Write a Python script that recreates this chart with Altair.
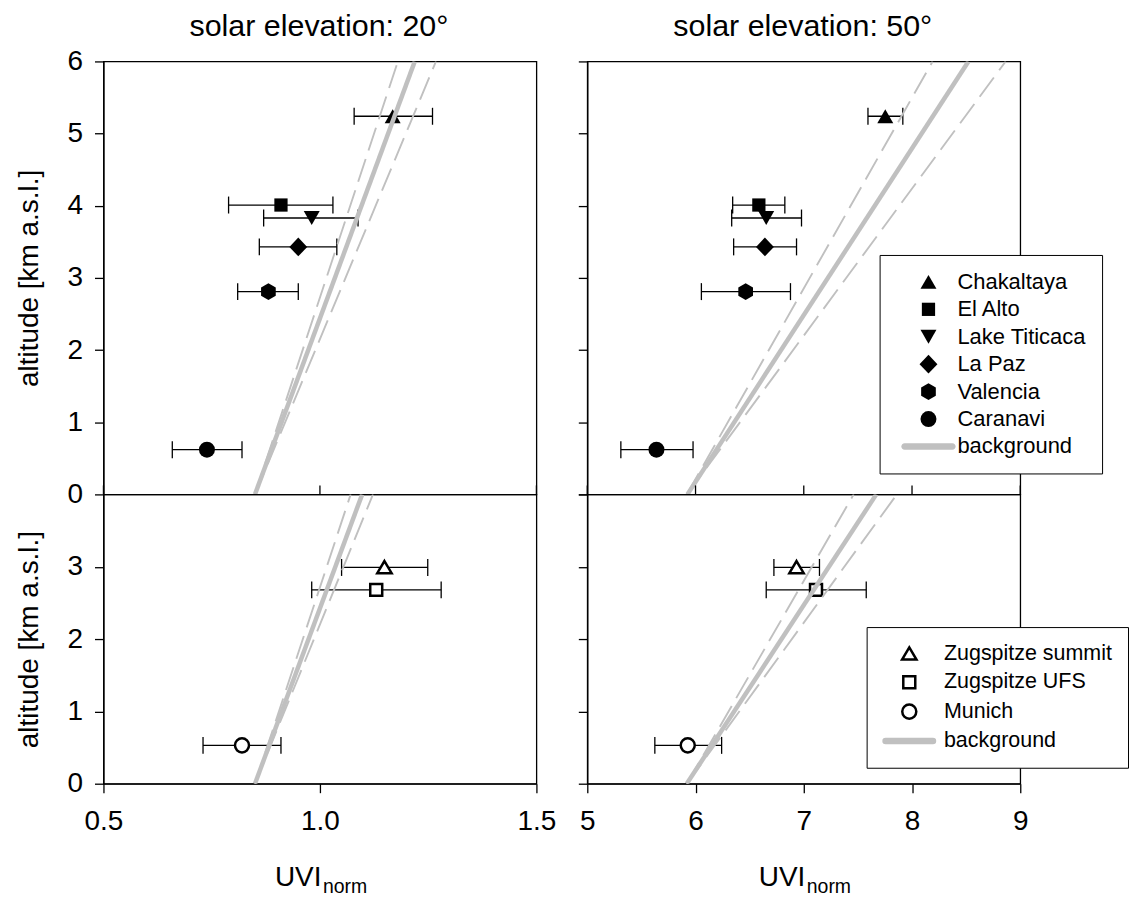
import altair as alt
import pandas as pd

FONT = "Liberation Sans"
GRAY = "#c0c0c0"

# ---------------- data ----------------
bol_sites = ["Chakaltaya", "El Alto", "Lake Titicaca", "La Paz", "Valencia", "Caranavi"]
bol_alt = [5.24, 4.01, 3.83, 3.43, 2.81, 0.62]
bol_uvi20 = [1.168, 0.910, 0.981, 0.950, 0.881, 0.739]
bol_uvi20_lo = [1.079, 0.789, 0.870, 0.860, 0.810, 0.659]
bol_uvi20_hi = [1.260, 1.030, 1.088, 1.039, 0.950, 0.820]
bol_uvi50 = [7.753, 6.585, 6.653, 6.641, 6.463, 5.639]
bol_uvi50_lo = [7.593, 6.343, 6.334, 6.352, 6.054, 5.310]
bol_uvi50_hi = [7.915, 6.825, 6.979, 6.933, 6.877, 5.977]

ger_sites = ["Zugspitze summit", "Zugspitze UFS", "Munich"]
ger_alt = [2.99, 2.68, 0.53]
ger_uvi20 = [1.149, 1.130, 0.820]
ger_uvi20_lo = [1.050, 0.981, 0.730]
ger_uvi20_hi = [1.249, 1.280, 0.910]
ger_uvi50 = [6.933, 7.113, 5.928]
ger_uvi50_lo = [6.724, 6.653, 5.624]
ger_uvi50_hi = [7.145, 7.577, 6.241]

# background model lines (altitude end points, UVI for centre / lower / upper)
bg_alt_top = [0, 6]
bg_alt_bot = [0, 4]
bg20_top = {"mid": [0.850, 1.219], "lo": [0.850, 1.180], "hi": [0.850, 1.268]}
bg50_top = {"mid": [5.925, 8.521], "lo": [5.920, 8.190], "hi": [5.920, 8.865]}
bg20_bot = {"mid": [0.850, 1.0975], "lo": [0.850, 1.071], "hi": [0.850, 1.1225]}
bg50_bot = {"mid": [5.919, 7.670], "lo": [5.920, 7.461], "hi": [5.920, 7.860]}

x20_ticks = [0.5, 1.0, 1.5]
x50_ticks = [5, 6, 7, 8, 9]
y_top_ticks = [0, 1, 2, 3, 4, 5, 6]
y_bot_ticks = [0, 1, 2, 3]

titles = ["solar elevation: 20°", "solar elevation: 50°"]

# marker shapes
filled_shapes = ["triangle-up", "M-0.83,-0.83H0.83V0.83H-0.83Z", "triangle-down",
                 "M0,-1.18L1.12,0L0,1.18L-1.12,0Z",
                 "M0,-1.04L0.92,-0.52L0.92,0.52L0,1.04L-0.92,0.52L-0.92,-0.52Z", "circle"]
open_shapes = ["M0,-0.8L0.9,0.72L-0.9,0.72Z", "M-0.75,-0.75H0.75V0.75H-0.75Z",
               "M0.88,0A0.88,0.88 0 1 1 -0.88,0A0.88,0.88 0 1 1 0.88,0Z"]
BG_FILLED = "M-3.0,-0.4H3.0A0.4,0.4 0 0 1 3.0,0.4H-3.0A0.4,0.4 0 0 1 -3.0,-0.4Z"
BG_OPEN = "M-2.97,-0.25H2.97A0.25,0.25 0 0 1 2.97,0.25H-2.97A0.25,0.25 0 0 1 -2.97,-0.25Z"

W = 434
H_TOP = 434
H_BOT = 290


def pts_df(sites, alts, uvi, lo, hi):
    return pd.DataFrame({"site": sites, "alt": alts, "uvi": uvi, "lo": lo, "hi": hi})


def lines_df(alts, d):
    rows = []
    for k, v in d.items():
        for a, u in zip(alts, v):
            rows.append({"kind": k, "alt": a, "uvi": u})
    return pd.DataFrame(rows)


def make_legend(lx, ly, filled, fs, soff, loff):
    return alt.Legend(title=None, orient="none", legendX=lx, legendY=ly,
                      fillColor="white", strokeColor="black", padding=16,
                      rowPadding=5.5, labelFont=FONT, labelFontSize=fs,
                      labelColor="black", labelLimit=400, symbolSize=256,
                      symbolOffset=soff, labelOffset=loff, symbolOpacity=1,
                      symbolStrokeWidth=0 if filled else 2.5)


def panel(pts, lines, xdom, xticks, xfmt, ydom, yvals, sites, shapes, filled,
          top, left, legend, title):
    H = H_TOP if top else H_BOT
    if top:
        xaxis = None
    else:
        xaxis = alt.Axis(values=xticks, format=xfmt, title="UVI", titleAlign="right",
                         titleX=218, titleY=102, titleBaseline="alphabetic")
    if left:
        yaxis = alt.Axis(values=yvals, format="d", title="altitude [km a.s.l.]")
    else:
        yaxis = alt.Axis(values=yvals, labels=False, title=None)

    xs = alt.Scale(domain=xdom, nice=False, zero=False)
    ys = alt.Scale(domain=ydom, nice=False, zero=False)
    base = alt.Chart(pts)

    err = base.mark_rule(color="black", strokeWidth=1.3).encode(
        x=alt.X("lo:Q", scale=xs, axis=xaxis), x2="hi:Q",
        y=alt.Y("alt:Q", scale=ys, axis=yaxis))
    cap_lo = base.mark_tick(color="black", orient="vertical", size=17, thickness=1.3,
                            opacity=1).encode(x=alt.X("lo:Q", scale=xs), y=alt.Y("alt:Q", scale=ys))
    cap_hi = base.mark_tick(color="black", orient="vertical", size=17, thickness=1.3,
                            opacity=1).encode(x=alt.X("hi:Q", scale=xs), y=alt.Y("alt:Q", scale=ys))
    dom = sites + ["background"]
    if filled:
        pm = base.mark_point(filled=True, size=256, opacity=1)
        enc = dict(
            shape=alt.Shape("site:N", scale=alt.Scale(domain=dom, range=shapes + [BG_FILLED]),
                            legend=legend),
            color=alt.Color("site:N", scale=alt.Scale(domain=dom, range=["black"] * len(sites) + [GRAY]),
                            legend=legend),
        )
    else:
        pm = base.mark_point(filled=False, size=256, opacity=1, strokeWidth=2.5, fillOpacity=1)
        enc = dict(
            shape=alt.Shape("site:N", scale=alt.Scale(domain=dom, range=shapes + [BG_OPEN]),
                            legend=legend),
            color=alt.Color("site:N", scale=alt.Scale(domain=dom, range=["black"] * len(sites) + [GRAY]),
                            legend=legend),
            fill=alt.Fill("site:N", scale=alt.Scale(domain=dom, range=["white"] * len(sites) + [GRAY]),
                          legend=legend),
        )
    points = pm.encode(x=alt.X("uvi:Q", scale=xs), y=alt.Y("alt:Q", scale=ys), **enc)

    lbase = alt.Chart(lines)
    solid = lbase.transform_filter("datum.kind === 'mid'").mark_line(
        color=GRAY, strokeWidth=4.5, clip=True).encode(
        x=alt.X("uvi:Q", scale=xs), y=alt.Y("alt:Q", scale=ys), order="alt:Q")
    dashed = lbase.transform_filter("datum.kind !== 'mid'").mark_line(
        color=GRAY, strokeWidth=1.9, strokeDash=[24, 9], clip=True).encode(
        x=alt.X("uvi:Q", scale=xs), y=alt.Y("alt:Q", scale=ys), detail="kind:N",
        order="alt:Q")

    layers = [err, cap_lo, cap_hi, points, dashed, solid]
    if top:
        tick_df = pd.DataFrame({"v": xticks})
        inner = alt.Chart(tick_df).mark_rule(color="black", strokeWidth=1.3).encode(
            x=alt.X("v:Q", scale=xs), y=alt.value(H), y2=alt.value(H - 9))
        layers.append(inner)
        ttl = alt.Chart(pd.DataFrame({"t": [title]})).mark_text(
            align="center", baseline="alphabetic", font=FONT, fontSize=30.5,
            color="black").encode(text="t:N", x=alt.value(W / 2 - 1), y=alt.value(-25))
        layers.append(ttl)
    else:
        sub = alt.Chart(pd.DataFrame({"t": ["norm"]})).mark_text(
            align="left", baseline="alphabetic", font=FONT, fontSize=19.5,
            color="black").encode(text="t:N", x=alt.value(220), y=alt.value(H + 109.5))
        layers.append(sub)

    return alt.layer(*layers).properties(width=W, height=H)


tl = panel(pts_df(bol_sites, bol_alt, bol_uvi20, bol_uvi20_lo, bol_uvi20_hi),
           lines_df(bg_alt_top, bg20_top), [0.5, 1.5], x20_ticks, ".1f", [0, 6],
           y_top_ticks, bol_sites, filled_shapes, True, True, True, None, titles[0])
tr = panel(pts_df(bol_sites, bol_alt, bol_uvi50, bol_uvi50_lo, bol_uvi50_hi),
           lines_df(bg_alt_top, bg50_top), [5, 9], x50_ticks, "d", [0, 6],
           y_top_ticks, bol_sites, filled_shapes, True, True, False,
           make_legend(293, 194, True, 22, 22, 18), titles[1])
bl = panel(pts_df(ger_sites, ger_alt, ger_uvi20, ger_uvi20_lo, ger_uvi20_hi),
           lines_df(bg_alt_bot, bg20_bot), [0.5, 1.5], x20_ticks, ".1f", [0, 4],
           y_bot_ticks, ger_sites, open_shapes, False, False, True, None, None)
br = panel(pts_df(ger_sites, ger_alt, ger_uvi50, ger_uvi50_lo, ger_uvi50_hi),
           lines_df(bg_alt_bot, bg50_bot), [5, 9], x50_ticks, "d", [0, 4],
           [0, 1, 2, 3, 4], ger_sites, open_shapes, False, False, False,
           make_legend(280, 133, False, 21.5, 16, 24), None)

indep = dict(x="independent", y="independent", shape="independent",
             color="independent", fill="independent")
leg = dict(shape="independent", color="independent", fill="independent")

chart = alt.concat(tl, tr, bl, br, columns=2, spacing={"row": 0, "column": 51},
                   bounds="flush").resolve_scale(**indep).resolve_legend(**leg).properties(
    padding={"left": 13.7, "top": 10.5, "right": 0, "bottom": 0}, background="white"
).configure_view(stroke="black", strokeWidth=1.3).configure_axis(
    domainColor="black", domainWidth=1.3, tickColor="black", tickWidth=1.3, tickSize=9,
    labelFont=FONT, labelFontSize=28, labelColor="black",
    labelFlush=False, labelOverlap=False, grid=False,
    titleFont=FONT, titleFontSize=28, titleFontWeight="normal", titleColor="black",
    titlePadding=14
).configure_axisX(labelPadding=15).configure_axisY(labelPadding=12, titlePadding=24).configure_legend(
    labelFont=FONT, labelColor="black", symbolSize=256,
    rowPadding=5.5, padding=16, labelLimit=400
)

chart.save("out.html", embed_options={"renderer": "svg", "actions": False})
